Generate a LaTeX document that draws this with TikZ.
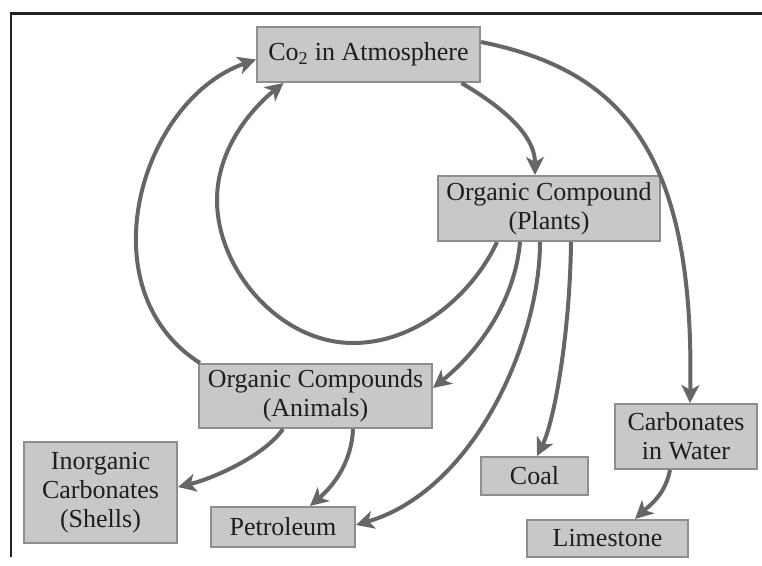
\documentclass[tikz,border=0pt]{standalone}
\usepackage{fontspec}
\setmainfont{Liberation Serif}
\usetikzlibrary{arrows.meta}
\definecolor{boxfill}{HTML}{C8C8C8}
\definecolor{boxedge}{HTML}{8E8E8E}
\definecolor{flow}{HTML}{666666}
\definecolor{ink}{HTML}{1E1E1E}
\definecolor{framecol}{HTML}{222222}
\begin{document}
\begin{tikzpicture}[x=1pt,y=-1pt,
  box/.style={draw=boxedge, line width=2pt, fill=boxfill, text=ink,
    inner sep=0pt, align=center, font=\fontsize{26}{29}\selectfont},
  flowarrow/.style={draw=flow, line width=4pt,
    -{Stealth[length=18pt,width=18pt,inset=5pt]}},
  framerule/.style={draw=framecol, line width=2.5pt}
]
\useasboundingbox (0,0) rectangle (762,565);

% frame along the top and left edges
\coordinate (frameR) at (762,13.5);
\coordinate (frameC) at (11,13.5);
\coordinate (frameB) at (11,557);
\draw[framerule] (frameR) -- (frameC) -- (frameB);

% stores of carbon
\node[box, minimum width=223pt, minimum height=55pt] (co2) at (368.5,54.5)
  {Co\textsubscript{2} in Atmosphere};
\node[box, minimum width=222pt, minimum height=65pt] (plants) at (549,208.5)
  {Organic Compound\\(Plants)};
\node[box, minimum width=233pt, minimum height=64pt] (animals) at (315.5,396)
  {Organic Compounds\\(Animals)};
\node[box, minimum width=153pt, minimum height=101pt] (shells) at (100.5,492.5)
  {Inorganic\\Carbonates\\(Shells)};
\node[box, minimum width=144pt, minimum height=40pt] (petrol) at (283,527)
  {Petroleum};
\node[box, minimum width=107pt, minimum height=38pt] (coal) at (534.5,476)
  {Coal};
\node[box, minimum width=142pt, minimum height=65pt] (water) at (686,436.5)
  {Carbonates\\in Water};
\node[box, minimum width=161pt, minimum height=37pt] (lime) at (607.5,538.5)
  {Limestone};

% flows between the stores
\draw[flowarrow] ([xshift=93pt]co2.south)
  .. controls (490,100) and (535,130) .. ([xshift=-14pt]plants.north);
\draw[flowarrow] ([yshift=12.5pt]co2.east)
  .. controls (620,70) and (695,150) .. ([xshift=4pt]water.north);
\draw[flowarrow] ([xshift=2pt]animals.north west)
  .. controls (85,290) and (140,100) .. ([yshift=-5pt]co2.west);
\draw[flowarrow] ([xshift=-52pt]plants.south)
  .. controls (475,290) and (420,343) .. (353,343)
  .. controls (280,343) and (217,270) .. (217,200)
  .. controls (217,150) and (250,110) .. ([xshift=-85pt]co2.south);
\draw[flowarrow] ([xshift=-29pt]plants.south)
  .. controls (515,300) and (480,350) .. ([yshift=8pt]animals.east);
\draw[flowarrow] ([xshift=-9pt]plants.south)
  .. controls (540,340) and (475,490) .. ([yshift=2pt]petrol.east);
\draw[flowarrow] ([xshift=22pt]plants.south)
  .. controls (570,330) and (555,420) .. ([xshift=2.5pt]coal.north);
\draw[flowarrow] ([xshift=-32.5pt]animals.south)
  .. controls (265,455) and (215,478) .. ([yshift=5.5pt]shells.east);
\draw[flowarrow] ([xshift=37.5pt]animals.south)
  .. controls (352,455) and (340,480) .. ([xshift=27pt]petrol.north);
\draw[flowarrow] ([xshift=-16pt]water.south)
  .. controls (665,495) and (650,505) .. ([xshift=27.5pt]lime.north);
\end{tikzpicture}
\end{document}
